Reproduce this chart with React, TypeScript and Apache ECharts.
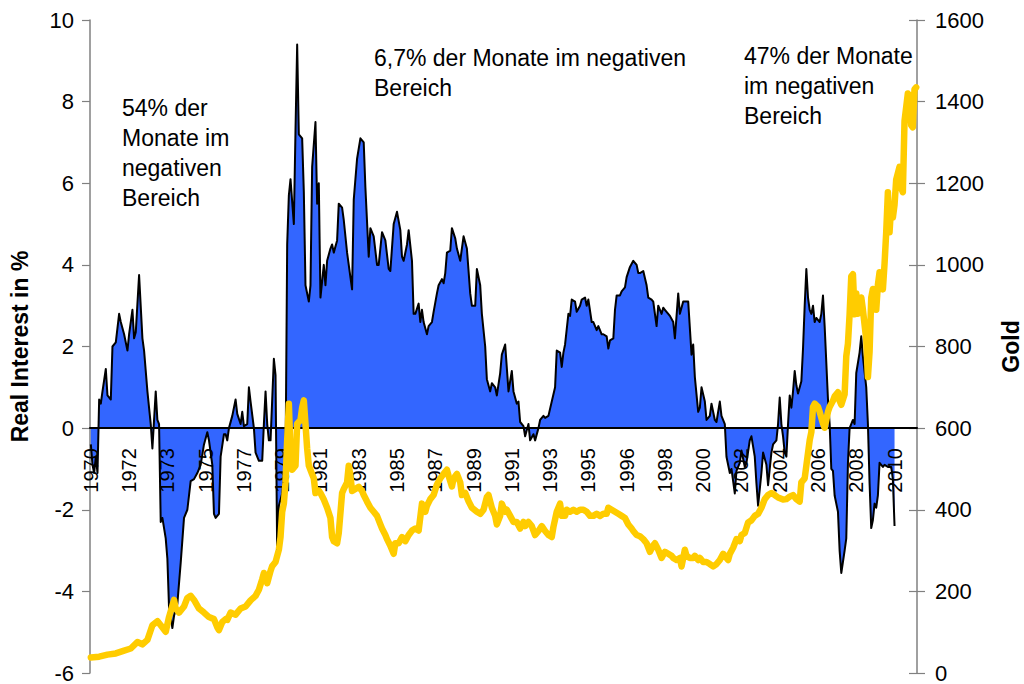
import React, { useEffect, useRef } from "react";
import * as echarts from "echarts";

const FONT = "'Liberation Sans', Arial, sans-serif";

// Monthly categories, first month Feb 1970
const START_YEAR = 1970;
const START_MONTH = 2;
const MONTH_COUNT = 497;
const months: string[] = [];
for (let i = 0; i < MONTH_COUNT; i++) {
  const t = START_MONTH - 1 + i;
  months.push(`${START_YEAR + Math.floor(t / 12)}-${String((t % 12) + 1).padStart(2, "0")}`);
}

// Real interest rate in % : [month index, value]
const realRate: [number, number][] = [
  [0, -0.4], [1, -0.9], [2, -1.1], [3, -0.7], [4, -1.1], [5, 0.7], [6, 0.6], [7, 0.9], [9, 1.45], [10, 0.8],
  [12, 0.7], [13, 2.0], [15, 2.1], [17, 2.8], [18, 2.6], [20, 2.3], [22, 1.9], [23, 2.3], [25, 2.9], [26, 2.2],
  [27, 2.35], [29, 3.75], [31, 2.2], [32, 1.9], [34, 0.9], [36, 0.1], [37, -0.5], [39, 0.9], [40, 0.2], [41, 0.1],
  [42, -2.3], [43, -2.2], [45, -2.7], [46, -3.2], [47, -4.4], [49, -4.9], [50, -4.6], [52, -4.3], [54, -3.3], [56, -2.2],
  [58, -2.0], [60, -1.3], [62, -1.25], [64, -1.1], [66, -0.9], [68, -0.4], [70, -0.1], [71, -0.3], [73, -0.9], [74, -2.1],
  [75, -2.2], [77, -2.1], [78, -0.7], [80, -0.15], [81, -0.15],
  [82, -0.3], [83, 0.0], [85, 0.3], [87, 0.7], [88, 0.35], [90, 0.1], [91, 0.4], [92, 0.05], [94, 0.1], [95, 1.0],
  [96, 0.65], [98, 0.0], [99, -0.6], [101, -0.8], [103, -0.8], [104, 0.1], [105, 0.9], [106, 0.1], [107, -0.3], [108, -0.3],
  [110, 1.7], [111, 1.3], [112, -3.1], [113, -1.9], [115, -1.6], [117, -0.9], [118, 4.5], [119, 5.7], [120, 6.1], [122, 5.0],
  [123, 7.3], [124, 9.4], [125, 7.2], [127, 7.1], [128, 5.8], [129, 3.5], [131, 3.1], [132, 3.5], [133, 6.4], [135, 7.5],
  [136, 5.5], [137, 6.0], [138, 3.2], [140, 4.0], [141, 3.5], [142, 4.1], [144, 4.4], [145, 4.5], [146, 4.3], [148, 4.6],
  [149, 5.5], [151, 5.4], [152, 5.1], [154, 4.3], [157, 3.4], [158, 5.6], [160, 6.6], [162, 7.1], [164, 7.0],
  [165, 5.9], [167, 4.2], [168, 4.9], [170, 4.7], [172, 4.0], [173, 4.0], [175, 4.8], [177, 4.6], [179, 3.9], [180, 3.85],
  [182, 5.0], [184, 5.3], [186, 4.85], [187, 4.2], [188, 4.1], [190, 4.5], [191, 4.85], [193, 4.1], [194, 2.8], [195, 2.8],
  [197, 3.05], [198, 2.6], [199, 2.9], [200, 2.6], [202, 2.3], [203, 2.5], [205, 2.6], [206, 2.85], [208, 3.3], [209, 3.5],
  [211, 3.65], [212, 3.55], [213, 3.8], [214, 4.3], [216, 4.35], [217, 4.9], [219, 4.65], [220, 4.4], [222, 4.1], [224, 4.7],
  [226, 4.4], [228, 3.3], [229, 3.0], [231, 3.0], [232, 3.9], [234, 3.5], [235, 2.8], [237, 2.0], [238, 1.2], [240, 0.9],
  [241, 1.1], [243, 1.0], [244, 0.8], [246, 1.35], [247, 1.8], [249, 2.05],
  [251, 0.9], [253, 1.4], [254, 0.9], [256, 0.6], [257, 0.65], [258, 0.15], [260, 0.05], [261, -0.2], [263, 0.1], [264, -0.3],
  [266, -0.15], [267, -0.3], [269, 0.0], [270, 0.2], [272, 0.3], [273, 0.25], [275, 0.3], [277, 0.65], [279, 1.0], [280, 1.9],
  [282, 1.85], [283, 1.5], [284, 1.85], [285, 2.05], [287, 2.8], [288, 2.75], [289, 3.15], [291, 3.1], [292, 2.85], [294, 3.0],
  [295, 3.15], [297, 3.2], [298, 3.0], [299, 3.15], [301, 2.6], [302, 2.6], [304, 2.4], [305, 2.5], [307, 2.3], [308, 2.3],
  [310, 2.25], [311, 1.95], [312, 2.15], [314, 2.2], [315, 2.9], [316, 3.25], [318, 3.25], [319, 3.35], [321, 3.45], [322, 3.7],
  [324, 3.95], [326, 4.1], [328, 4.0], [329, 3.8], [330, 3.8],
  [332, 3.85], [334, 3.5], [335, 3.2], [337, 3.15], [338, 3.1], [340, 2.5], [341, 3.0], [343, 2.8], [344, 2.95], [345, 2.9],
  [347, 2.8], [348, 2.75], [350, 2.6], [351, 2.2], [353, 3.3], [354, 2.8], [356, 3.1], [357, 3.1], [359, 3.1], [361, 1.8],
  [362, 2.05], [363, 1.25], [365, 0.4], [366, 0.5], [367, 1.0], [369, 0.65], [370, 0.2], [372, 0.3], [373, 0.6], [375, 0.2],
  [376, 0.15], [378, 0.65], [379, 0.3], [381, 0.1], [382, -0.7], [384, -1.1], [385, -1.0], [387, -1.6], [388, -1.05], [390, -0.85],
  [391, -0.55], [393, -0.95], [394, -0.85], [396, -0.3], [397, -0.2], [399, -0.7], [400, -1.35], [401, -1.9], [403, -1.1], [404, -0.6],
  [406, -0.9], [407, -1.4], [409, -0.6], [410, -0.4], [412, -0.3], [413, 0.1],
  [414, 0.75], [415, 0.1], [416, -0.2], [417, -0.6], [418, -0.7], [419, 0.1], [420, 0.8], [421, 0.5], [422, 0.9], [423, 1.4],
  [424, 1.05], [425, 0.85], [427, 1.15], [428, 1.95], [429, 3.0], [430, 3.9], [431, 3.2], [432, 2.9], [433, 2.8], [434, 3.0],
  [435, 2.6], [436, 2.7], [438, 2.6], [439, 2.8], [440, 3.25], [441, 2.5], [443, 0.7], [444, 0.1], [445, -1.0], [446, -1.05],
  [447, -1.65], [449, -2.05], [450, -3.0], [451, -3.55], [453, -3.0], [454, -2.7], [455, -0.85], [456, 0.0], [458, 0.2], [459, 0.1],
  [460, 1.35], [462, 1.85], [463, 2.25], [464, 1.75], [466, 1.0], [467, 0.1], [468, -1.35], [469, -2.45], [470, -2.25], [471, -1.85],
  [472, -1.95], [473, -1.65], [474, -0.85], [476, -0.95], [477, -0.9], [479, -0.95], [481, -0.95], [482, -1.25], [483, -2.4],
];

// Gold price : [month index, value]
const gold: [number, number][] = [
  [0, 38], [5, 40], [10, 45], [15, 48], [20, 55], [24, 60], [28, 76], [31, 70], [34, 81], [37, 117],
  [40, 127], [42, 117], [45, 101], [47, 137], [50, 179], [51, 158], [53, 148], [56, 163], [58, 184], [60, 189],
  [62, 179], [65, 158], [68, 148], [71, 137], [74, 132], [76, 112], [77, 105], [79, 125], [81, 132],
  [82, 130], [84, 148], [87, 143], [90, 158], [93, 163], [96, 178], [99, 189], [101, 204], [103, 230], [104, 245],
  [106, 220], [108, 250], [109, 262], [111, 272], [113, 302], [114, 333], [115, 395], [116, 415], [117, 467], [118, 570],
  [119, 660], [120, 540], [121, 498], [123, 508], [124, 611], [126, 620], [127, 650], [128, 668], [129, 610], [130, 550],
  [131, 508], [133, 487], [134, 477], [135, 441], [137, 447], [138, 441], [140, 425], [142, 405], [144, 380], [145, 333],
  [146, 323], [148, 318], [149, 343], [151, 441], [152, 451], [154, 467], [155, 508], [156, 483], [157, 446], [159, 451],
  [161, 456], [163, 446],
  [164, 436], [166, 420], [168, 405], [170, 395], [172, 385], [174, 364], [175, 354], [177, 338], [178, 328], [180, 312],
  [182, 292], [183, 318], [185, 318], [187, 333], [189, 323], [191, 338], [193, 349], [195, 354], [197, 349], [199, 415],
  [201, 395], [202, 410], [204, 426], [206, 436], [208, 462], [210, 477], [212, 488], [214, 498], [215, 483], [217, 457],
  [218, 477], [220, 488], [222, 467], [223, 436], [225, 441], [227, 421], [229, 405], [232, 395], [234, 390], [236, 400],
  [238, 431], [239, 436], [241, 405], [243, 385], [244, 364], [246, 385], [247, 415],
  [249, 395], [250, 400], [252, 385], [254, 370], [256, 370], [258, 354], [260, 370], [261, 360], [263, 370], [265, 360],
  [267, 338], [269, 348], [271, 360], [273, 348], [275, 338], [277, 333], [278, 358], [280, 395], [282, 415], [283, 385],
  [285, 385], [286, 400], [288, 395], [290, 400], [292, 395], [294, 400], [296, 400], [298, 395], [300, 385], [302, 385],
  [304, 390], [306, 385], [308, 390], [310, 390], [311, 405], [313, 400], [315, 395], [317, 390], [319, 385], [321, 380],
  [323, 364], [325, 354], [326, 348], [328, 338], [330, 335],
  [332, 328], [334, 318], [336, 297], [338, 313], [339, 318], [341, 302], [343, 282], [345, 297], [347, 292], [349, 287],
  [350, 282], [352, 277], [354, 282], [355, 261], [357, 302], [358, 287], [360, 282], [362, 282], [363, 287], [365, 277],
  [366, 282], [368, 272], [370, 272], [372, 267], [374, 261], [376, 267], [378, 277], [380, 292], [381, 287], [383, 277],
  [384, 292], [386, 307], [388, 328], [390, 323], [391, 338], [393, 343], [395, 369], [397, 374], [399, 385], [401, 390],
  [403, 405], [405, 426], [407, 436], [409, 441], [411, 436], [413, 430],
  [416, 425], [418, 426], [420, 432], [422, 436], [424, 426], [426, 420], [427, 467], [429, 477], [430, 508], [432, 570],
  [433, 590], [434, 652], [435, 660], [437, 652], [438, 640], [440, 611], [441, 601], [443, 640], [444, 652], [446, 667],
  [447, 678], [449, 688], [450, 667], [451, 657], [453, 683], [454, 776], [455, 807], [456, 879], [457, 972], [458, 977],
  [459, 879], [460, 930], [461, 880], [463, 920], [464, 890], [466, 817], [467, 725], [468, 787], [469, 920], [470, 941],
  [471, 930], [472, 890], [473, 951], [474, 982], [476, 940], [477, 1003], [478, 1080], [479, 1178], [480, 1080], [481, 1147],
  [482, 1116], [483, 1147], [484, 1209], [486, 1240], [487, 1188], [488, 1178], [489, 1353], [491, 1420], [492, 1415], [493, 1342],
  [494, 1337], [495, 1430], [496, 1435],
];

const leftTicks = { min: -6, max: 10, interval: 2 };
const rightTicks = { min: 0, max: 1600, interval: 200 };

const notes = [
  { text: "54% der\nMonate im\nnegativen\nBereich", left: 122, top: 93 },
  { text: "6,7% der Monate im negativen\nBereich", left: 374, top: 43 },
  { text: "47% der Monate\nim negativen\nBereich", left: 744, top: 41 },
];

const GRID = { left: 90, right: 107, top: 20, bottom: 11 };
const CHART_H = 684;

export default function App() {
  const ref = useRef<HTMLDivElement>(null);
  useEffect(() => {
    if (!ref.current) return;
    const chart = echarts.init(ref.current, undefined, { renderer: "svg" });
    // place the category axis on the zero line of the left value axis
    const plotH = CHART_H - GRID.top - GRID.bottom;
    const zeroOffset = -((0 - leftTicks.min) / (leftTicks.max - leftTicks.min)) * plotH;
    chart.setOption({
      animation: false,
      backgroundColor: "#ffffff",
      textStyle: { fontFamily: FONT },
      grid: { ...GRID, containLabel: false, outerBoundsMode: "none" },
      xAxis: {
        type: "category",
        data: months,
        boundaryGap: true,
        position: "bottom",
        offset: zeroOffset,
        z: 2,
        axisLine: { onZero: false, lineStyle: { color: "#000000", width: 2 } },
        axisTick: { show: false },
        splitLine: { show: false },
        axisLabel: {
          interval: 22,
          rotate: 90,
          fontSize: 20,
          color: "#000000",
          fontFamily: FONT,
          margin: 20,
          formatter: (v: string) => v.slice(0, 4),
        },
      },
      yAxis: [
        {
          type: "value",
          position: "left",
          ...leftTicks,
          name: "Real Interest in %",
          nameLocation: "middle",
          nameRotate: 90,
          nameGap: 59,
          nameTextStyle: { fontSize: 23, fontWeight: "bold", color: "#000000", fontFamily: FONT },
          axisLine: { show: true, onZero: false, lineStyle: { color: "#808080", width: 1.5 } },
          axisTick: { show: true, length: 8, lineStyle: { color: "#808080", width: 1.2 } },
          axisLabel: { fontSize: 22, color: "#000000", margin: 16, fontFamily: FONT, formatter: (v: number) => String(v) },
          splitLine: { show: false },
        },
        {
          type: "value",
          position: "right",
          ...rightTicks,
          name: "Gold",
          nameLocation: "middle",
          nameRotate: 90,
          nameGap: 82,
          nameTextStyle: { fontSize: 23, fontWeight: "bold", color: "#000000", fontFamily: FONT },
          axisLine: { show: true, onZero: false, lineStyle: { color: "#808080", width: 1.5 } },
          axisTick: { show: true, length: 8, lineStyle: { color: "#808080", width: 1.2 } },
          axisLabel: { fontSize: 22, color: "#000000", margin: 18, fontFamily: FONT, formatter: (v: number) => String(v) },
          splitLine: { show: false },
        },
        {
          type: "value",
          position: "right",
          ...rightTicks,
          axisLine: { show: false },
          axisTick: { show: true, inside: true, length: 8, lineStyle: { color: "#808080", width: 1.2 } },
          axisLabel: { show: false },
          splitLine: { show: false },
        },
      ],
      series: [
        {
          type: "line",
          name: "Real Interest",
          data: realRate,
          yAxisIndex: 0,
          symbol: "none",
          lineStyle: { color: "#000000", width: 2, join: "round" },
          itemStyle: { color: "#000000" },
          areaStyle: { color: "#3366FF", opacity: 1 },
          z: 1,
        },
        {
          type: "line",
          name: "Gold",
          data: gold,
          yAxisIndex: 1,
          symbol: "none",
          lineStyle: { color: "#FFCC00", width: 6.5, join: "round", cap: "round" },
          itemStyle: { color: "#FFCC00" },
          z: 3,
        },
      ],
      graphic: notes.map((n) => ({
        type: "text",
        left: n.left,
        top: n.top,
        style: { text: n.text, fontSize: 23, lineHeight: 30, fill: "#000000", fontFamily: FONT },
      })),
    });
    return () => chart.dispose();
  }, []);
  return (
    <div
      ref={ref}
      style={{ position: "fixed", left: 0, top: 0, width: 1024, height: 684, background: "#fff" }}
    />
  );
}
